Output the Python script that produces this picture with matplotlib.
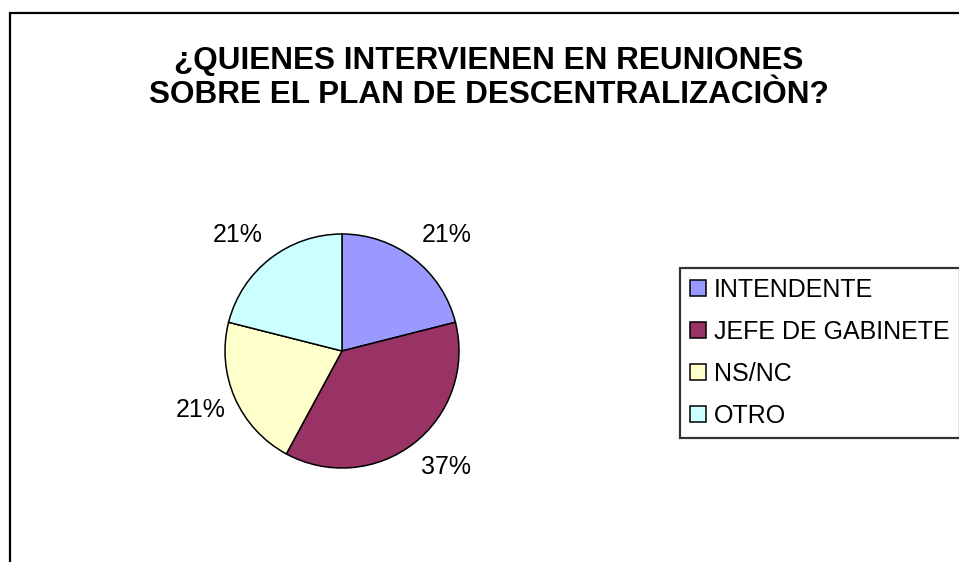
import numpy as np
import matplotlib
matplotlib.use("Agg")
import matplotlib.pyplot as plt
from matplotlib.patches import Rectangle, Patch

categories = ["INTENDENTE", "JEFE DE GABINETE", "NS/NC", "OTRO"]
values = [4, 7, 4, 4]
colors = ["#9999FF", "#993366", "#FFFFCC", "#CCFFFF"]
title = "¿QUIENES INTERVIENEN EN REUNIONES\nSOBRE EL PLAN DE DESCENTRALIZACIÒN?"

W, H = 959, 562
plt.rcParams['font.family'] = ['Liberation Sans', 'DejaVu Sans']
fig = plt.figure(figsize=(W / 100, H / 100), dpi=100)
fig.patch.set_facecolor("white")

# chart-area frame (extends beyond right and bottom edges)
fig.patches.append(Rectangle((10 / W, -0.1), 1.2, (H - 13) / H + 0.1,
                             transform=fig.transFigure, fill=False,
                             edgecolor="black", linewidth=1.6))

fig.text(489 / W, 1 - 78 / H, title, ha="center", va="center",
         fontsize=22.7, fontweight="bold", linespacing=1.17)

cx, cy, r = 342, H - 351, 117
ax = fig.add_axes([(cx - r) / W, (cy - r) / H, 2 * r / W, 2 * r / H])
wedges, texts, autotexts = ax.pie(
    values, colors=colors, startangle=90, counterclock=False,
    autopct="%1.0f%%", pctdistance=1.31,
    wedgeprops=dict(edgecolor="black", linewidth=1.1),
    textprops=dict(fontsize=18, color="black"))

# Excel-like "outside end" label placement
for w, t in zip(wedges, autotexts):
    th = np.deg2rad((w.theta1 + w.theta2) / 2)
    c, s = np.cos(th), np.sin(th)
    t.set_position((1.06 * c + 0.24 * np.sign(c), 1.24 * s + 0.01 * np.sign(s)))
    t.set_ha("center")
    t.set_va("center")

ax.set_xlim(-1, 1)
ax.set_ylim(-1, 1)
ax.set_aspect("equal")
ax.axis("off")

handles = [Patch(facecolor=c, edgecolor="black", linewidth=1.1) for c in colors]
leg = fig.legend(handles, categories, loc="upper left",
                 bbox_to_anchor=(680 / W, 1 - 268 / H),
                 fontsize=18, frameon=True, fancybox=False,
                 edgecolor="black", handlelength=0.64, handleheight=0.64,
                 handletextpad=0.32, labelspacing=0.72, borderpad=0.4,
                 borderaxespad=0.0)
leg.get_frame().set_linewidth(1.6)

fig.savefig("out.png", dpi=100)
